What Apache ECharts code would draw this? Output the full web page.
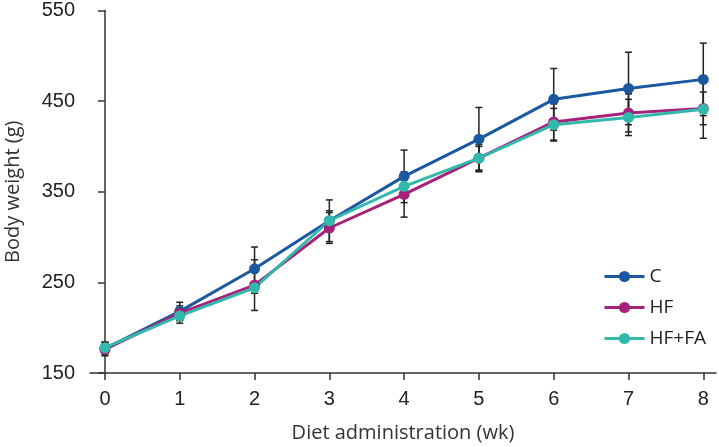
<!DOCTYPE html>
<html>
<head>
<meta charset="utf-8">
<script src="https://cdn.jsdelivr.net/npm/echarts@6/dist/echarts.min.js"></script>
<style>
  html, body { margin: 0; padding: 0; background: #fff; }
  #main { width: 719px; height: 447px; }
</style>
</head>
<body>
<div id="main"></div>
<script>
// Body weight over diet weeks, mean +/- error

const weeks = [0, 1, 2, 3, 4, 5, 6, 7, 8];
const yTicks = [150, 250, 350, 450, 550];

const cMean = [177, 218, 265, 318, 367, 408, 452, 464, 474];
const cErr = [7, 10, 24, 23, 29, 35, 34, 40, 40];

const hfMean = [176, 216, 247, 310, 347, 387, 427, 437, 442];
const hfErr = [7, 8, 28, 17, 25, 15, 20, 21, 18];

const hffaMean = [178, 213, 244, 318, 356, 387, 424, 432, 441];
const hffaErr = [6, 8, 6, 11, 8, 13, 18, 20, 32];

const groups = [
    { name: 'C', mean: cMean, err: cErr, color: '#1b58a0' },
    { name: 'HF', mean: hfMean, err: hfErr, color: '#a6217a' },
    { name: 'HF+FA', mean: hffaMean, err: hffaErr, color: '#33b9ac' }
];

let myChart = echarts.init(document.getElementById('main'));

// error bars drawn under the lines
function errorSeries(g) {
    return {
        type: 'custom',
        name: g.name + ' err',
        z: 1,
        silent: true,
        data: weeks.map((w, i) => [w, g.mean[i] - g.err[i], g.mean[i] + g.err[i]]),
        renderItem: function (params, api) {
            let lo = api.coord([api.value(0), api.value(1)]);
            let hi = api.coord([api.value(0), api.value(2)]);
            let hw = 3.5;
            let st = { stroke: '#222', lineWidth: 1.5 };
            return {
                type: 'group',
                children: [
                    { type: 'line', shape: { x1: lo[0], y1: lo[1], x2: hi[0], y2: hi[1] }, style: st },
                    { type: 'line', shape: { x1: lo[0] - hw, y1: lo[1], x2: lo[0] + hw, y2: lo[1] }, style: st },
                    { type: 'line', shape: { x1: hi[0] - hw, y1: hi[1], x2: hi[0] + hw, y2: hi[1] }, style: st }
                ]
            };
        }
    };
}

let series = [];
groups.forEach((g) => series.push(errorSeries(g)));
groups.forEach((g) => {
    series.push({
        type: 'line',
        name: g.name,
        z: 3,
        data: weeks.map((w, i) => [w, g.mean[i]]),
        symbol: 'circle',
        symbolSize: 11,
        lineStyle: { width: 3, color: g.color },
        itemStyle: { color: g.color },
        emphasis: { disabled: true }
    });
});

let axisText = { fontFamily: 'Liberation Sans', fontSize: 20, color: '#222' };
let nameText = { fontFamily: 'Open Sans', fontSize: 20, color: '#333' };

let option = {
    animation: false,
    grid: { left: 90, right: 3, top: 10.5, bottom: 74, containLabel: false, outerBoundsMode: 'none' },
    legend: {
        data: groups.map((g) => g.name),
        orient: 'vertical',
        left: 598,
        top: 262,
        itemWidth: 40,
        itemHeight: 14,
        itemGap: 12,
        lineStyle: { width: 3 },
        textStyle: { fontFamily: 'Open Sans', fontSize: 19, color: '#222' }
    },
    xAxis: {
        type: 'value',
        min: -0.2,
        max: 8.17,
        name: 'Diet administration (wk)',
        nameLocation: 'middle',
        nameGap: 50,
        nameTextStyle: nameText,
        axisLine: { lineStyle: { color: '#333', width: 1.5 } },
        axisTick: { length: 7, customValues: weeks, lineStyle: { color: '#333', width: 1.5 } },
        axisLabel: Object.assign({ margin: 16, customValues: weeks }, axisText),
        splitLine: { show: false }
    },
    yAxis: {
        type: 'value',
        min: 150,
        max: 550,
        interval: 100,
        name: 'Body weight (g)',
        nameLocation: 'middle',
        nameGap: 67,
        nameTextStyle: nameText,
        axisLine: { show: true, lineStyle: { color: '#333', width: 1.5 } },
        axisTick: { show: true, length: 7, lineStyle: { color: '#333', width: 1.5 } },
        axisLabel: Object.assign({ margin: 15, customValues: yTicks }, axisText),
        splitLine: { show: false }
    },
    series: series
};

myChart.setOption(option);
</script>
</body>
</html>
